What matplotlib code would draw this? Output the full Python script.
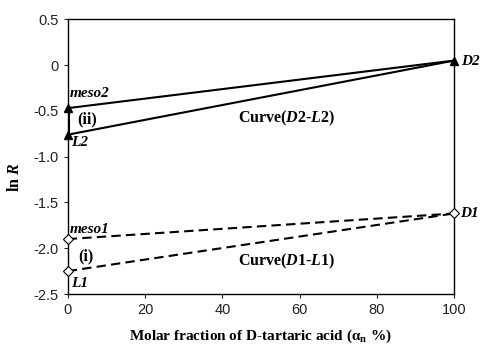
import matplotlib
matplotlib.use("Agg")
import matplotlib.pyplot as plt
from matplotlib.ticker import FuncFormatter

# data
x_ends = [0, 100]
curve2_upper = [-0.47, 0.05]   # meso2 -> D2
curve2_lower = [-0.76, 0.05]   # L2 -> D2
curve1_upper = [-1.90, -1.62]  # meso1 -> D1
curve1_lower = [-2.25, -1.62]  # L1 -> D1

xticks = [0, 20, 40, 60, 80, 100]
yticks = [0.5, 0, -0.5, -1.0, -1.5, -2.0, -2.5]

serif = "Liberation Serif"
sans = "Liberation Sans"

plt.rcParams["mathtext.fontset"] = "custom"
plt.rcParams["mathtext.rm"] = serif + ":bold"
plt.rcParams["mathtext.it"] = serif + ":italic:bold"
plt.rcParams["mathtext.bf"] = serif + ":bold"
plt.rcParams["mathtext.bfit"] = serif + ":italic:bold"

fig = plt.figure(figsize=(4.82, 3.47), dpi=100)
ax = fig.add_axes([0.1405, 0.1527, 0.802, 0.7916])

dash = (0, (4.5, 2.5))

# curve 2 (solid, triangles)
ax.plot(x_ends, curve2_upper, color="black", lw=1.5)
ax.plot(x_ends, curve2_lower, color="black", lw=1.5)
ax.plot([0, 0], [curve2_upper[0], curve2_lower[0]], color="black", lw=2.2)
ax.plot([0, 0, 100], [curve2_upper[0], curve2_lower[0], curve2_upper[1]],
        ls="none", marker="^", ms=6, color="black", clip_on=False, zorder=5)

# curve 1 (dashed, open diamonds)
ax.plot(x_ends, curve1_upper, color="black", lw=1.5, ls=dash)
ax.plot(x_ends, curve1_lower, color="black", lw=1.5, ls=dash)
ax.plot([0, 0], [curve1_upper[0], curve1_lower[0]], color="black", lw=1.5, ls=dash)
ax.plot([0, 0, 100], [curve1_upper[0], curve1_lower[0], curve1_upper[1]],
        ls="none", marker="D", ms=5.5, mfc="white", mec="black", mew=0.8,
        clip_on=False, zorder=5)

ax.set_xlim(0, 100)
ax.set_ylim(-2.5, 0.5)
ax.set_xticks(xticks)
ax.set_yticks(yticks)
ax.yaxis.set_major_formatter(FuncFormatter(lambda v, p: "0" if abs(v) < 1e-9 else "%.1f" % v))
ax.tick_params(direction="out", length=3, width=0.8, labelsize=10.5, colors="#222222")
for lab in ax.get_xticklabels() + ax.get_yticklabels():
    lab.set_family(sans)
for sp in ax.spines.values():
    sp.set_linewidth(1.0)

fig.text(0.541, 1 - 336.5 / 347, "Molar fraction of D-tartaric acid (α$_\\mathrm{n}$ %)",
         family=serif, fontweight="bold", fontsize=11, ha="center", va="center")
fig.text(15 / 482, 1 - 177 / 347, r"ln $R$", family=serif, fontweight="bold",
         fontsize=11.5, rotation=90, ha="center", va="center")

bi = dict(family=serif, fontweight="bold", fontstyle="italic", fontsize=11)
b = dict(family=serif, fontweight="bold", fontsize=11.5)

ax.text(0.6, -0.31, "meso2", ha="left", va="center", **bi)
ax.text(2.5, -0.59, "(ii)", ha="left", va="center", **b)
ax.text(1.0, -0.84, "L2", ha="left", va="center", **bi)
ax.text(101.8, 0.04, "D2", ha="left", va="center", clip_on=False, **bi)
ax.text(0.6, -1.79, "meso1", ha="left", va="center", **bi)
ax.text(2.7, -2.09, "(i)", ha="left", va="center", **b)
ax.text(1.0, -2.38, "L1", ha="left", va="center", **bi)
ax.text(101.5, -1.62, "D1", ha="left", va="center", clip_on=False, **bi)

ax.text(56.6, -0.58, r"Curve($D$2-$L$2)", ha="center", va="center", **b)
ax.text(56.6, -2.14, r"Curve($D$1-$L$1)", ha="center", va="center", **b)

fig.savefig("out.png", dpi=100)
